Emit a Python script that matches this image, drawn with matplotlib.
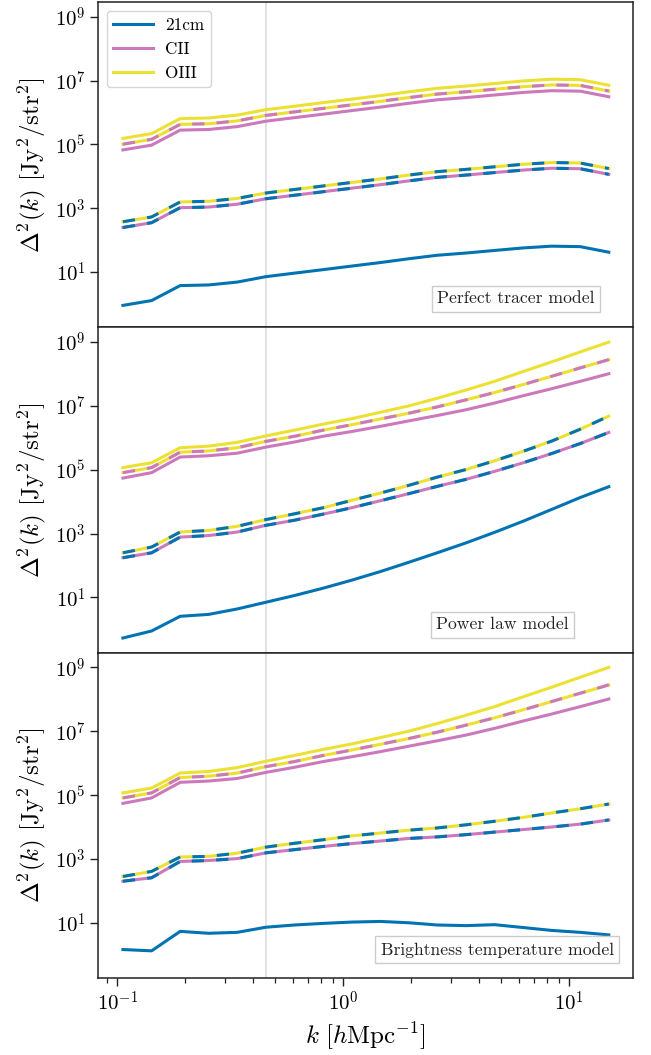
import matplotlib
matplotlib.use("Agg")
import matplotlib.pyplot as plt
from matplotlib.ticker import FixedLocator, NullLocator, FuncFormatter, LogLocator
import numpy as np

plt.rcParams['font.family'] = ['cmr10', 'DejaVu Serif']
plt.rcParams['mathtext.fontset'] = 'cm'
plt.rcParams['axes.formatter.use_mathtext'] = True

# ---------------- data ----------------
k = [0.106, 0.142, 0.190, 0.254, 0.340, 0.455, 0.609, 0.815, 1.09, 1.46,
     1.95, 2.61, 3.50, 4.68, 6.27, 8.39, 11.2, 15.0]

# Perfect tracer model
pt_21cm = [0.912, 1.29, 3.80, 3.98, 4.90, 7.24, 9.33, 12.0, 15.5, 20.0,
           26.3, 33.9, 39.8, 47.9, 57.5, 65.3, 63.1, 42.2]
pt_oiii = [1.55e5, 2.19e5, 6.46e5, 6.76e5, 8.32e5, 1.23e6, 1.58e6, 2.04e6, 2.63e6, 3.39e6,
           4.47e6, 5.75e6, 6.76e6, 8.13e6, 9.77e6, 1.11e7, 1.07e7, 7.16e6]
pt_cii = [6.76e4, 9.55e4, 2.82e5, 2.95e5, 3.63e5, 5.37e5, 6.92e5, 8.91e5, 1.15e6, 1.48e6,
          1.95e6, 2.51e6, 2.95e6, 3.55e6, 4.27e6, 4.84e6, 4.68e6, 3.13e6]
pt_cii_oiii = [1.02e5, 1.45e5, 4.27e5, 4.47e5, 5.50e5, 8.13e5, 1.05e6, 1.35e6, 1.74e6, 2.24e6,
               2.95e6, 3.80e6, 4.47e6, 5.37e6, 6.46e6, 7.33e6, 7.08e6, 4.73e6]
pt_21_oiii = [380, 537, 1585, 1660, 2042, 3020, 3890, 5012, 6457, 8318,
              1.10e4, 1.41e4, 1.66e4, 2.00e4, 2.40e4, 2.72e4, 2.63e4, 1.76e4]
pt_21_cii = [251, 355, 1047, 1096, 1349, 1995, 2570, 3311, 4266, 5495,
             7244, 9333, 1.10e4, 1.32e4, 1.58e4, 1.80e4, 1.74e4, 1.16e4]

# Power law model
pl_21cm = [0.537, 0.891, 2.57, 2.95, 4.37, 7.08, 11.5, 19.5, 34.7, 64.6,
           126, 251, 513, 1096, 2455, 5754, 1.35e4, 2.95e4]
pl_oiii = [1.17e5, 1.66e5, 4.90e5, 5.50e5, 7.24e5, 1.15e6, 1.74e6, 2.69e6, 3.98e6, 6.31e6,
           1.0e7, 1.74e7, 3.16e7, 5.89e7, 1.20e8, 2.40e8, 4.90e8, 1.0e9]
pl_cii = [5.50e4, 8.13e4, 2.51e5, 2.75e5, 3.31e5, 5.13e5, 7.41e5, 1.12e6, 1.58e6, 2.29e6,
          3.39e6, 5.01e6, 7.59e6, 1.23e7, 2.09e7, 3.47e7, 5.89e7, 1.02e8]
pl_cii_oiii = [8.13e4, 1.17e5, 3.55e5, 3.89e5, 4.90e5, 7.76e5, 1.12e6, 1.74e6, 2.57e6, 3.89e6,
               5.89e6, 9.33e6, 1.55e7, 2.63e7, 4.68e7, 8.51e7, 1.55e8, 2.82e8]
pl_21_oiii = [251, 380, 1122, 1259, 1698, 2754, 4169, 6457, 1.10e4, 1.86e4,
              3.24e4, 5.89e4, 1.02e5, 1.91e5, 3.80e5, 7.94e5, 1.86e6, 4.79e6]
pl_21_cii = [176, 251, 776, 871, 1122, 1820, 2630, 4074, 6457, 1.07e4,
             1.78e4, 3.02e4, 5.01e4, 8.91e4, 1.66e5, 3.24e5, 6.61e5, 1.48e6]

# Brightness temperature model
bt_21cm = [1.45, 1.32, 5.37, 4.68, 5.01, 7.24, 8.51, 9.55, 10.5, 11.0,
           10.0, 8.51, 8.13, 8.71, 7.08, 5.75, 5.01, 4.17]
bt_oiii = [1.17e5, 1.66e5, 4.90e5, 5.50e5, 7.24e5, 1.15e6, 1.74e6, 2.69e6, 3.98e6, 6.31e6,
           1.0e7, 1.74e7, 3.16e7, 5.89e7, 1.20e8, 2.40e8, 4.90e8, 1.0e9]
bt_cii = [5.50e4, 8.13e4, 2.51e5, 2.75e5, 3.31e5, 5.13e5, 7.41e5, 1.12e6, 1.58e6, 2.29e6,
          3.39e6, 5.01e6, 7.59e6, 1.23e7, 2.09e7, 3.47e7, 5.89e7, 1.02e8]
bt_cii_oiii = [8.13e4, 1.17e5, 3.55e5, 3.89e5, 4.90e5, 7.76e5, 1.12e6, 1.74e6, 2.57e6, 3.89e6,
               5.89e6, 9.33e6, 1.55e7, 2.63e7, 4.68e7, 8.51e7, 1.55e8, 2.82e8]
bt_21_oiii = [282, 407, 1148, 1202, 1514, 2344, 3090, 3981, 5248, 6457,
              7943, 9333, 1.17e4, 1.51e4, 2.00e4, 2.75e4, 3.72e4, 5.25e4]
bt_21_cii = [200, 257, 832, 891, 1023, 1549, 1950, 2455, 3020, 3631,
             4365, 4898, 5754, 6918, 8318, 1.0e4, 1.23e4, 1.66e4]

model_names = ["Perfect tracer model", "Power law model", "Brightness temperature model"]
k_marker = 0.455

# ---------------- styles ----------------
C21 = '#0173b2'
CCII = '#cc78bc'
COIII = '#ece133'
LW = 2.2
DASH = (0, (4, 4))

panels = [
    (pt_21cm, pt_cii, pt_oiii, pt_cii_oiii, pt_21_oiii, pt_21_cii),
    (pl_21cm, pl_cii, pl_oiii, pl_cii_oiii, pl_21_oiii, pl_21_cii),
    (bt_21cm, bt_cii, bt_oiii, bt_cii_oiii, bt_21_oiii, bt_21_cii),
]
text_pos = [(0.781, 0.088), (0.756, 0.086), (0.746, 0.087)]

fig, axes = plt.subplots(3, 1, figsize=(6.51, 10.55), dpi=100, sharex=True)
fig.subplots_adjust(left=0.1505, right=0.9724, top=0.998, bottom=0.0730, hspace=0)

for i, (ax, data) in enumerate(zip(axes, panels)):
    s21, scii, soiii, scii_oiii, s21_oiii, s21_cii = data
    ax.axvline(k_marker, color='#dddddd', lw=1.2, zorder=0)
    ax.plot(k, s21, color=C21, lw=LW, label='21cm')
    ax.plot(k, scii, color=CCII, lw=LW, label='CII')
    ax.plot(k, soiii, color=COIII, lw=LW, label='OIII')
    # cross spectra: solid base colour with dashes of the other
    ax.plot(k, scii_oiii, color=COIII, lw=LW)
    ax.plot(k, scii_oiii, color=CCII, lw=LW, linestyle=DASH)
    ax.plot(k, s21_oiii, color=COIII, lw=LW)
    ax.plot(k, s21_oiii, color=C21, lw=LW, linestyle=DASH)
    ax.plot(k, s21_cii, color=CCII, lw=LW)
    ax.plot(k, s21_cii, color=C21, lw=LW, linestyle=DASH)

    ax.set_xscale('log')
    ax.set_yscale('log')
    ax.set_xlim(0.0822, 19.2)
    ax.set_ylim(10 ** -0.73, 10 ** 9.46)
    ax.yaxis.set_major_locator(FixedLocator([1e1, 1e3, 1e5, 1e7, 1e9]))
    ax.yaxis.set_minor_locator(NullLocator())
    ax.yaxis.set_major_formatter(FuncFormatter(lambda v, p: r'$10^{%d}$' % round(np.log10(v))))
    ax.set_ylabel(r'$\Delta^2(k)\ [\mathrm{Jy}^2/\mathrm{str}^2]$', fontsize=18, labelpad=5)
    ax.tick_params(axis='both', which='major', direction='out', length=5.5, width=1.0,
                   labelsize=15, color='#222222')
    ax.tick_params(axis='both', which='minor', direction='out', length=3.5, width=0.9,
                   color='#222222')
    for sp in ax.spines.values():
        sp.set_linewidth(1.1)
        sp.set_color('#222222')
    tx, ty = text_pos[i]
    ax.text(tx, ty, model_names[i], transform=ax.transAxes, ha='center', va='center',
            fontsize=12.7, color='#222222',
            bbox=dict(boxstyle='square,pad=0.3', facecolor='white', edgecolor='#cccccc', lw=1.0))
    if i < 2:
        ax.tick_params(axis='x', which='both', length=0, labelbottom=False)

axes[0].legend(loc='upper left', fontsize=12.3, handlelength=2.3, labelspacing=0.5,
               handletextpad=0.75, borderpad=0.4, framealpha=0.8, edgecolor='#cccccc')

axb = axes[2]
axb.xaxis.set_major_locator(LogLocator(base=10))
axb.xaxis.set_minor_locator(LogLocator(base=10, subs=np.arange(2, 10)))
axb.xaxis.set_major_formatter(FuncFormatter(lambda v, p: r'$10^{%d}$' % round(np.log10(v))))
axb.set_xlabel(r'$k\ [h\mathrm{Mpc}^{-1}]$', fontsize=18)

fig.savefig('out.png', dpi=100)
